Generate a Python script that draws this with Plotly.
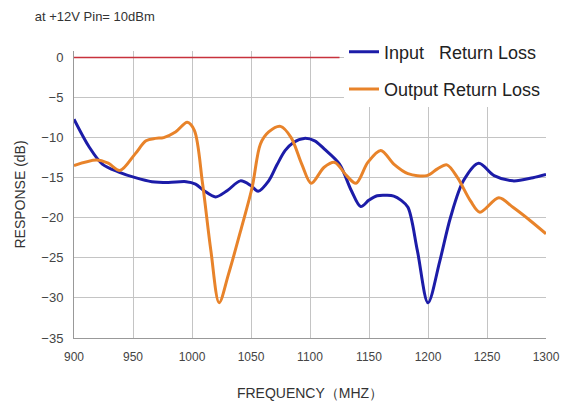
import plotly.graph_objects as go

# Input Return Loss (blue)
in_freq = [900, 913, 924, 938, 952, 966, 980, 995, 1003, 1010, 1020, 1030, 1041, 1050, 1056, 1065, 1072, 1079, 1086, 1095,
           1104, 1112, 1125, 1135, 1143, 1150, 1157, 1165, 1171, 1177, 1183, 1191, 1200, 1210, 1219, 1230, 1243,
           1256, 1272, 1289, 1300]
in_db = [-7.7, -11.2, -13.3, -14.3, -15.0, -15.5, -15.6, -15.5, -15.8, -16.6, -17.4, -16.6, -15.4, -16.0, -16.7, -15.4, -13.4, -11.6, -10.6, -10.1,
         -10.4, -11.4, -13.3, -16.6, -18.6, -17.8, -17.25, -17.2, -17.3, -17.8, -18.7, -24.1, -30.6, -25.4, -20.0, -15.4, -13.2,
         -14.75, -15.4, -15.0, -14.6]

# Output Return Loss (orange)
out_freq = [900, 919, 929, 939, 952, 961, 969, 976, 986, 996, 1002, 1009, 1016, 1023, 1031, 1042, 1051, 1058, 1065, 1075,
            1084, 1093, 1101, 1112, 1121, 1131, 1139, 1149, 1160, 1171, 1183, 1199, 1208, 1216, 1225, 1236, 1244,
            1260, 1272, 1287, 1300]
out_db = [-13.5, -12.8, -13.2, -14.1, -12.0, -10.4, -10.1, -10.0, -9.3, -8.1, -9.1, -15.8, -24.1, -30.6, -27.0, -21.2, -16.2, -10.8, -9.3, -8.6,
          -10.0, -13.3, -15.7, -13.7, -13.1, -14.75, -15.7, -13.1, -11.6, -13.3, -14.5, -14.75, -13.9, -13.4, -15.0, -17.9, -19.3,
          -17.5, -18.7, -20.4, -22.0]

# Red reference line at 0 dB
ref_freq = [900, 1125]
ref_db = [0, 0]

x_ticks = [900, 950, 1000, 1050, 1100, 1150, 1200, 1250, 1300]
y_ticks = [0, -5, -10, -15, -20, -25, -30, -35]
y_tick_text = ["0", "−5", "−10", "−15", "−20", "−25", "−30", "−35"]

fig = go.Figure()
fig.add_trace(go.Scatter(x=ref_freq, y=ref_db, mode="lines", line=dict(color="#c8323c", width=1.5),
                         showlegend=False, hoverinfo="skip"))
fig.add_trace(go.Scatter(x=in_freq, y=in_db, mode="lines", name="Input   Return Loss", legendgroup="a",
                         line=dict(color="#1c1ca8", width=3, shape="spline", smoothing=0.9)))
fig.add_trace(go.Scatter(x=out_freq, y=out_db, mode="lines", name="Output Return Loss", legendgroup="b",
                         line=dict(color="#e8832a", width=3, shape="spline", smoothing=0.9)))

font_family = "Liberation Sans, Arial, sans-serif"
fig.update_layout(
    width=570, height=410,
    margin=dict(l=63, r=32, t=43, b=80),
    paper_bgcolor="white", plot_bgcolor="white",
    font=dict(family=font_family, color="#333333", size=13),
    title=dict(text="at +12V Pin= 10dBm", x=0.047, xanchor="left", y=0.98, yanchor="middle",
               font=dict(size=13, color="#333333")),
    legend=dict(x=1.0, xanchor="right", y=1.061, yanchor="top", bgcolor="white",
                font=dict(size=18, color="#222222"),
                itemwidth=30, tracegroupgap=11),
    xaxis=dict(range=[900, 1300], tickvals=x_ticks, showgrid=True, gridcolor="#c4c4c4", gridwidth=1,
               showline=True, linecolor="#999999", linewidth=1, zeroline=False, ticks="",
               tickfont=dict(size=12, color="#444444"), ticklabelstandoff=8,
               title=dict(text="FREQUENCY（MHZ）", font=dict(size=14, color="#333333"), standoff=24)),
    yaxis=dict(range=[-35, 0.8], tickvals=y_ticks, ticktext=y_tick_text, showgrid=True, gridcolor="#c4c4c4",
               gridwidth=1, showline=True, linecolor="#999999", linewidth=1, zeroline=False, ticks="",
               tickfont=dict(size=13, color="#444444"), ticklabelstandoff=7,
               title=dict(text="RESPONSE (dB)", font=dict(size=14, color="#333333"), standoff=12)),
)

fig.write_html("out.html")
